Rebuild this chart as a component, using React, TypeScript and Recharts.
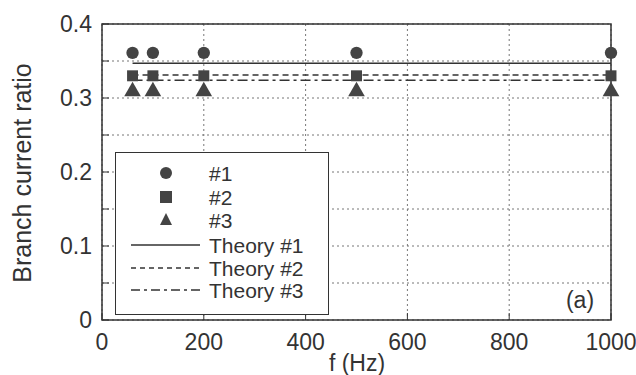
import {
  ComposedChart,
  Scatter,
  Line,
  XAxis,
  YAxis,
  ZAxis,
  CartesianGrid,
  ReferenceArea,
} from "recharts";

const freqs = [60, 100, 200, 500, 1000];
const meas1 = [0.361, 0.361, 0.361, 0.361, 0.361];
const meas2 = [0.33, 0.33, 0.33, 0.33, 0.33];
const meas3 = [0.309, 0.309, 0.309, 0.309, 0.309];

const theoryFreqs = [60, 1000];
const theory1 = [0.347, 0.347];
const theory2 = [0.331, 0.331];
const theory3 = [0.324, 0.324];

const xTicks = [0, 200, 400, 600, 800, 1000];
const yTicks = [0, 0.05, 0.1, 0.15, 0.2, 0.25, 0.3, 0.35, 0.4];
const yLabels = ["0", "", "0.1", "", "0.2", "", "0.3", "", "0.4"];

const ink = "#333";
const font = "'Liberation Sans', Arial, sans-serif";

const pts = (xs: number[], ys: number[]) => xs.map((f, i) => ({ f, v: ys[i] }));

const legendItems = [
  { label: "#1", kind: "circle" },
  { label: "#2", kind: "square" },
  { label: "#3", kind: "triangle" },
  { label: "Theory #1", kind: "line", dash: "" },
  { label: "Theory #2", kind: "line", dash: "5 4" },
  { label: "Theory #3", kind: "line", dash: "9 4 3 4" },
];

function LeftTick(props: any) {
  const { x, y, index } = props;
  return (
    <g>
      <line x1={x} x2={x + 7} y1={y} y2={y} stroke={ink} />
      <text x={x - 10} y={y} textAnchor="end" dominantBaseline="central" fontSize={23} fill={ink} fontFamily={font}>
        {yLabels[index]}
      </text>
    </g>
  );
}

function RightTick(props: any) {
  const { x, y } = props;
  return <line x1={x - 7} x2={x} y1={y} y2={y} stroke={ink} />;
}

function BottomTick(props: any) {
  const { x, y, payload } = props;
  return (
    <g>
      <line x1={x} x2={x} y1={y} y2={y - 7} stroke={ink} />
      <text x={x} y={y + 22} textAnchor="middle" dominantBaseline="central" fontSize={23} fill={ink} fontFamily={font}>
        {payload.value}
      </text>
    </g>
  );
}

function TopTick(props: any) {
  const { x, y } = props;
  return <line x1={x} x2={x} y1={y} y2={y + 7} stroke={ink} />;
}

function LegendBox() {
  return (
    <div
      style={{
        position: "absolute",
        left: 115,
        top: 152,
        width: 212,
        height: 161,
        background: "#fff",
        border: `1px solid ${ink}`,
      }}
    >
      <svg width={212} height={161} style={{ display: "block" }}>
        {legendItems.map((it, i) => {
          const cy = [20, 44, 67, 92, 115, 137][i];
          return (
            <g key={it.label}>
              {it.kind === "circle" && <circle cx={50} cy={cy} r={6} fill="#444" />}
              {it.kind === "square" && <rect x={44} y={cy - 6} width={12} height={12} fill="#444" />}
              {it.kind === "triangle" && (
                <polygon points={`50,${cy - 7} 56,${cy + 5} 44,${cy + 5}`} fill="#444" />
              )}
              {it.kind === "line" && (
                <line x1={15} x2={84} y1={cy} y2={cy} stroke={ink} strokeWidth={1.3} strokeDasharray={it.dash} />
              )}
              <text x={93} y={cy} dominantBaseline="central" fontSize={21} fill={ink} fontFamily={font}>
                {it.label}
              </text>
            </g>
          );
        })}
      </svg>
    </div>
  );
}

export default function App() {
  return (
    <div style={{ position: "absolute", left: 0, top: 0, width: 636, height: 375, background: "#fff" }}>
      <ComposedChart width={636} height={375} margin={{ top: 23, right: 24, bottom: 0, left: 0 }}>
        <CartesianGrid xAxisId="b" yAxisId="l" stroke="#777" strokeDasharray="2 3" />
        <XAxis
          xAxisId="b"
          dataKey="f"
          type="number"
          domain={[0, 1000]}
          ticks={xTicks}
          height={55}
          axisLine={false}
          tickLine={false}
          tickSize={0}
          tickMargin={0}
          tick={<BottomTick />}
          label={{
            content: () => (
              <text x={357} y={363} textAnchor="middle" dominantBaseline="central" fontSize={23} fill={ink} fontFamily={font}>
                f (Hz)
              </text>
            ),
          }}
        />
        <XAxis
          xAxisId="t"
          orientation="top"
          type="number"
          domain={[0, 1000]}
          ticks={xTicks}
          height={1}
          axisLine={false}
          tickLine={false}
          tickSize={0}
          tickMargin={0}
          tick={<TopTick />}
        />
        <YAxis
          yAxisId="l"
          dataKey="v"
          type="number"
          domain={[0, 0.4]}
          ticks={yTicks}
          width={102}
          axisLine={false}
          tickLine={false}
          tickSize={0}
          tickMargin={0}
          tick={<LeftTick />}
          label={{
            content: () => (
              <text
                x={22}
                y={173}
                transform="rotate(-90 22 173)"
                textAnchor="middle"
                dominantBaseline="central"
                fontSize={25}
                fill={ink}
                fontFamily={font}
              >
                Branch current ratio
              </text>
            ),
          }}
        />
        <YAxis
          yAxisId="r"
          orientation="right"
          type="number"
          domain={[0, 0.4]}
          ticks={yTicks}
          width={1}
          axisLine={false}
          tickLine={false}
          tickSize={0}
          tickMargin={0}
          tick={<RightTick />}
        />
        <ZAxis range={[120, 120]} />
        <ReferenceArea
          xAxisId="b"
          yAxisId="l"
          x1={0}
          x2={1000}
          y1={0}
          y2={0.4}
          fill="none"
          stroke={ink}
          strokeWidth={1.5}
          fillOpacity={0}
          label={{
            content: () => (
              <text x={580} y={300} textAnchor="middle" dominantBaseline="central" fontSize={23} fill={ink} fontFamily={font}>
                (a)
              </text>
            ),
          }}
        />
        <Line xAxisId="b" yAxisId="l" data={pts(theoryFreqs, theory1)} dataKey="v" stroke={ink} strokeWidth={1.5} dot={false} isAnimationActive={false} />
        <Line xAxisId="b" yAxisId="l" data={pts(theoryFreqs, theory2)} dataKey="v" stroke={ink} strokeWidth={1.5} strokeDasharray="6 4" dot={false} isAnimationActive={false} />
        <Line xAxisId="b" yAxisId="l" data={pts(theoryFreqs, theory3)} dataKey="v" stroke={ink} strokeWidth={1.5} strokeDasharray="10 4 3 4" dot={false} isAnimationActive={false} />
        <Scatter xAxisId="b" yAxisId="l" data={pts(freqs, meas1)} dataKey="v" shape="circle" fill="#444" isAnimationActive={false} />
        <Scatter xAxisId="b" yAxisId="l" data={pts(freqs, meas2)} dataKey="v" shape="square" fill="#444" isAnimationActive={false} />
        <Scatter xAxisId="b" yAxisId="l" data={pts(freqs, meas3)} dataKey="v" shape="triangle" fill="#444" isAnimationActive={false} />
      </ComposedChart>
      <LegendBox />
    </div>
  );
}
